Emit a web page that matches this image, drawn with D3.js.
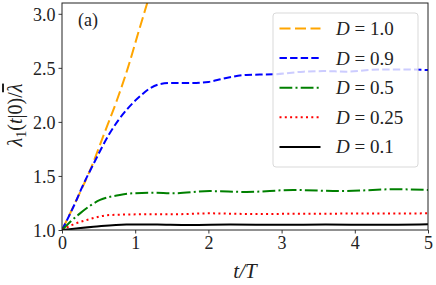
<!DOCTYPE html>
<html>
<head>
<meta charset="utf-8">
<script src="https://cdn.jsdelivr.net/npm/d3@7"></script>
<style>
  body { margin: 0; background: #fff; }
  text { font-family: "Liberation Serif", "DejaVu Serif", serif; }
</style>
</head>
<body>
<div class="chart"></div>
<script>
// data
var t10 = [0, 0.2, 0.4, 0.57, 0.75, 0.9, 1.04, 1.2];
var v10 = [1, 1.28, 1.58, 1.88, 2.2, 2.5, 2.82, 3.18];

var t09 = [0, 0.2, 0.27, 0.43, 0.656, 0.88, 1.07, 1.2, 1.34, 1.5, 1.75, 2.0, 2.2, 2.52, 2.89, 3.3, 3.57, 3.89, 4.34, 4.7, 5];
var v09 = [1, 1.28, 1.39, 1.61, 1.9, 2.11, 2.24, 2.31, 2.35, 2.36, 2.36, 2.37, 2.4, 2.435, 2.44, 2.465, 2.47, 2.465, 2.485, 2.485, 2.48];

var t05 = [0, 0.246, 0.52, 0.79, 0.97, 1.25, 1.52, 2.02, 2.52, 3.16, 3.84, 4.53, 5];
var v05 = [1, 1.154, 1.278, 1.324, 1.34, 1.345, 1.34, 1.36, 1.352, 1.37, 1.36, 1.377, 1.37];

var t025 = [0, 0.15, 0.34, 0.66, 1.11, 1.5, 2.02, 2.6, 3.16, 4.0, 5];
var v025 = [1, 1.05, 1.093, 1.139, 1.145, 1.145, 1.154, 1.148, 1.15, 1.152, 1.154];

var t01 = [0, 0.43, 0.88, 1.3, 1.75, 2.3, 3.0, 3.6, 4.3, 5];
var v01 = [1, 1.03, 1.052, 1.05, 1.046, 1.05, 1.048, 1.05, 1.048, 1.053];

var labels = ["1.0", "0.9", "0.5", "0.25", "0.1"];
var colors = ["#FFA500", "#0000FF", "#008000", "#FF0000", "#000000"];
var dashes = ["11,4.5", "7.4,3.2", "12.8,3.2,2,3.2", "2,3.3", null];

var xTicks = [0, 1, 2, 3, 4, 5];
var yTicks = [1.0, 1.5, 2.0, 2.5, 3.0];

var svgWidth = 436;
var svgHeight = 285;
var margin = { top: 3, right: 8, bottom: 55, left: 62 };
var width = svgWidth - margin.left - margin.right;
var height = svgHeight - margin.top - margin.bottom;

var svg = d3.select(".chart")
  .append("svg")
  .attr("width", svgWidth)
  .attr("height", svgHeight);

var chartGroup = svg.append("g")
  .attr("transform", `translate(${margin.left}, ${margin.top})`);

var xScale = d3.scaleLinear().domain([0, 5]).range([0, width]);
var yScale = d3.scaleLinear().domain([1, 3.1]).range([height, 0]);

svg.append("defs").append("clipPath")
  .attr("id", "plotclip")
  .append("rect")
  .attr("width", width)
  .attr("height", height);

var series = [
  { t: t10, v: v10 },
  { t: t09, v: v09 },
  { t: t05, v: v05 },
  { t: t025, v: v025 },
  { t: t01, v: v01 }
];

var line = d3.line()
  .x(d => xScale(d[0]))
  .y(d => yScale(d[1]))
  .curve(d3.curveMonotoneX);

var lineGroup = chartGroup.append("g").attr("clip-path", "url(#plotclip)");

series.forEach(function(s, i) {
  var pts = s.t.map((tt, j) => [tt, s.v[j]]);
  lineGroup.append("path")
    .datum(pts)
    .attr("d", line)
    .attr("fill", "none")
    .attr("stroke", colors[i])
    .attr("stroke-width", 2)
    .attr("stroke-dasharray", dashes[i]);
});

// axes
var bottomAxis = d3.axisBottom(xScale).tickValues(xTicks).tickFormat(d3.format("d"))
  .tickSizeOuter(0).tickSize(3.5).tickPadding(3);
var leftAxis = d3.axisLeft(yScale).tickValues(yTicks).tickFormat(d3.format(".1f"))
  .tickSizeOuter(0).tickSize(3.5).tickPadding(3);

var xAxis = chartGroup.append("g")
  .attr("transform", `translate(0, ${height})`)
  .call(bottomAxis);
var yAxis = chartGroup.append("g").call(leftAxis);

[xAxis, yAxis].forEach(function(a) {
  a.select(".domain").remove();
  a.selectAll("text")
    .attr("font-family", "Liberation Serif, serif")
    .attr("font-size", 18)
    .attr("fill", "#222");
  a.selectAll("line").attr("stroke", "#222").attr("stroke-width", 0.9);
});
yAxis.selectAll("text").attr("dy", "0.36em");
xAxis.selectAll("text").attr("dy", "0.72em");

// frame
chartGroup.append("rect")
  .attr("width", width)
  .attr("height", height)
  .attr("fill", "none")
  .attr("stroke", "#222")
  .attr("stroke-width", 1);

// panel label
chartGroup.append("text")
  .attr("x", 16)
  .attr("y", 23)
  .attr("font-size", 18)
  .attr("fill", "#222")
  .text("(a)");

// axis titles
svg.append("text")
  .attr("x", margin.left + width / 2)
  .attr("y", 278)
  .attr("text-anchor", "middle")
  .attr("font-size", 21)
  .attr("font-style", "italic")
  .attr("fill", "#222")
  .text("t/T");

var yTitle = svg.append("text")
  .attr("transform", "translate(22, 115) rotate(-90)")
  .attr("text-anchor", "middle")
  .attr("font-size", 20)
  .attr("fill", "#222");
yTitle.append("tspan").attr("font-style", "italic").text("λ");
yTitle.append("tspan").attr("font-size", 14).attr("dy", 4).text("1");
yTitle.append("tspan").attr("dy", -4).text("(");
yTitle.append("tspan").attr("font-style", "italic").text("t");
yTitle.append("tspan").text("|0)/");
yTitle.append("tspan").attr("font-style", "italic")
  .style("text-decoration", "overline")
  .text("λ");

// legend
var legend = chartGroup.append("g")
  .attr("transform", `translate(${273 - margin.left}, ${13 - margin.top})`);

legend.append("rect")
  .attr("width", 145)
  .attr("height", 154)
  .attr("rx", 3)
  .attr("fill", "white")
  .attr("fill-opacity", 0.8)
  .attr("stroke", "#d9d9d9")
  .attr("stroke-width", 1);

labels.forEach(function(lab, i) {
  var y = 15.5 + i * 29.6;
  legend.append("line")
    .attr("x1", 6.5).attr("x2", 47.5)
    .attr("y1", y).attr("y2", y)
    .attr("stroke", colors[i])
    .attr("stroke-width", 2)
    .attr("stroke-dasharray", dashes[i]);
  var txt = legend.append("text")
    .attr("x", 63)
    .attr("y", y + 6.5)
    .attr("font-size", 19)
    .attr("fill", "#222");
  txt.append("tspan").attr("font-style", "italic").text("D");
  txt.append("tspan").text(" = " + lab);
});
</script>
</body>
</html>
